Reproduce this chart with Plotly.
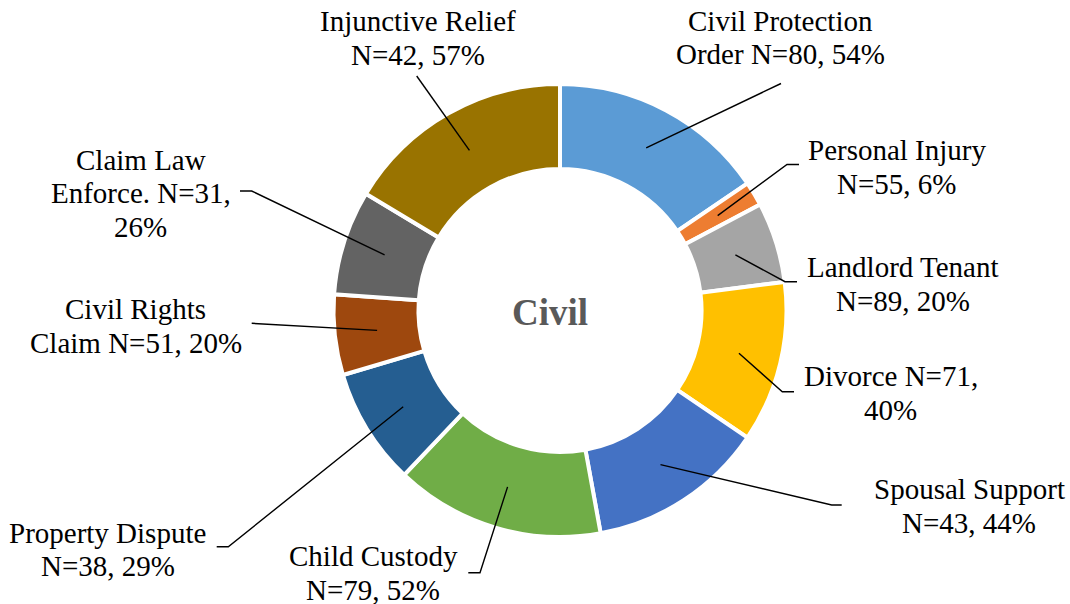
import math
import plotly.graph_objects as go

# ---- data -------------------------------------------------------------
categories = [
    "Civil Protection Order", "Personal Injury", "Landlord Tenant", "Divorce",
    "Spousal Support", "Child Custody", "Property Dispute", "Civil Rights Claim",
    "Claim Law Enforce.", "Injunctive Relief",
]
counts = [80, 55, 89, 71, 43, 79, 38, 51, 31, 42]
percents = [54, 6, 20, 40, 44, 52, 29, 20, 26, 57]

# label text, one entry per printed line
label_lines = [
    ["Civil Protection", "Order N=80, 54%"],
    ["Personal Injury", "N=55, 6%"],
    ["Landlord Tenant", "N=89, 20%"],
    ["Divorce N=71,", "40%"],
    ["Spousal Support", "N=43, 44%"],
    ["Child Custody", "N=79, 52%"],
    ["Property Dispute", "N=38, 29%"],
    ["Civil Rights", "Claim N=51, 20%"],
    ["Claim Law", "Enforce. N=31,", "26%"],
    ["Injunctive Relief", "N=42, 57%"],
]

colors = ["#5B9BD5", "#ED7D31", "#A5A5A5", "#FFC000", "#4472C4",
          "#70AD47", "#255E91", "#9E480E", "#636363", "#997300"]

# ---- layout (pixels) --------------------------------------------------
W, H = 1070, 604
CX, CY = 560.0, 310.5          # ring centre
R_OUT = 226.5                  # outer radius
HOLE = 0.625
R_LEADER = 184.0               # leader lines start mid-ring

# label block: centre x, y of first line
label_pos = [(780.5, 20.5), (896.5, 150.0), (903.0, 267.0), (890.5, 376.0),
             (969.0, 489.5), (373.0, 556.0), (107.5, 532.5), (135.5, 309.0),
             (140.5, 159.5), (417.5, 21.5)]
LINE_STEP = 33.5
# leader elbow and end points
leader_elbow = [(781, 83.5), (787, 164.5), (785, 281.7), (782.3, 391.7),
                (831.7, 505), (480, 572.7), (228.3, 546.7), (251.7, 323.3),
                (251.7, 191), (416.7, 76)]
leader_end = [(781, 83.5), (799, 164.5), (797, 281.7), (794, 391.7),
              (841.7, 505), (468.3, 572.7), (216.7, 546.7), (251.7, 323.3),
              (240, 191), (416.7, 76)]

FONT = "Liberation Serif"


def px(x):
    return x / W


def py(y):
    return 1 - y / H


fig = go.Figure(go.Pie(
    labels=categories,
    values=percents,
    customdata=counts,
    sort=False,
    direction="clockwise",
    rotation=0,
    hole=HOLE,
    textinfo="none",
    hoverinfo="label+value",
    marker=dict(colors=colors, line=dict(color="white", width=4)),
    domain=dict(x=[px(CX - R_OUT), px(CX + R_OUT)],
                y=[py(CY + R_OUT), py(CY - R_OUT)]),
    showlegend=False,
))

# leader lines from the middle of each slice
total = sum(percents)
shapes = []
cum = 0.0
for i, v in enumerate(percents):
    mid = (cum + v / 2) / total * 2 * math.pi
    cum += v
    sx = CX + R_LEADER * math.sin(mid)
    sy = CY - R_LEADER * math.cos(mid)
    ex, ey = leader_elbow[i]
    tx, ty = leader_end[i]
    path = (f"M {px(sx)} {py(sy)} L {px(ex)} {py(ey)} "
            f"L {px(tx)} {py(ty)}")
    shapes.append(dict(type="path", xref="paper", yref="paper", path=path,
                       line=dict(color="black", width=1.4)))

annotations = []
for lines, (lx, ly) in zip(label_lines, label_pos):
    for k, line in enumerate(lines):
        annotations.append(dict(
            x=px(lx), y=py(ly + k * LINE_STEP), xref="paper", yref="paper",
            text=line, showarrow=False, xanchor="center", yanchor="middle",
            font=dict(family=FONT, size=29, color="black"),
        ))

annotations.append(dict(
    x=px(550), y=py(312), xref="paper", yref="paper",
    text="<b>Civil</b>", showarrow=False, xanchor="center", yanchor="middle",
    font=dict(family=FONT, size=37, color="#595959"),
))

fig.update_layout(
    width=W, height=H,
    margin=dict(l=0, r=0, t=0, b=0),
    paper_bgcolor="white", plot_bgcolor="white",
    font=dict(family=FONT),
    shapes=shapes, annotations=annotations,
)

fig.write_html("out.html")
